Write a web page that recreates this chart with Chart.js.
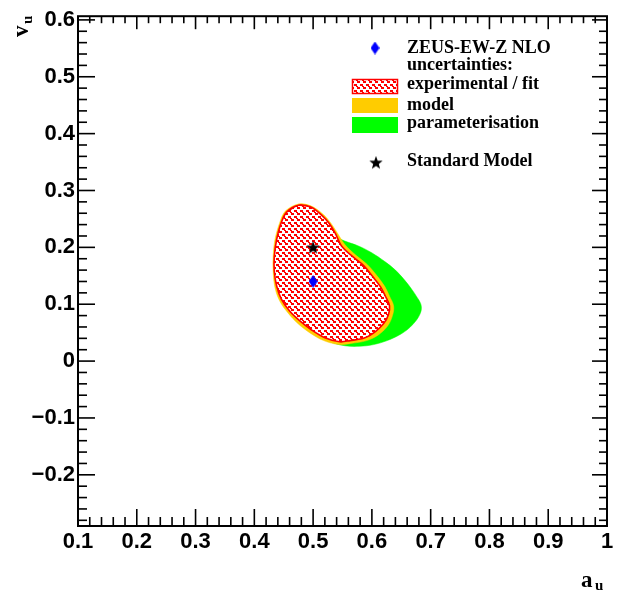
<!DOCTYPE html>
<html>
<head>
<meta charset="utf-8">
<title>ZEUS-EW-Z NLO: a_u vs v_u</title>
<script src="https://cdn.jsdelivr.net/npm/chart.js@4.4.1/dist/chart.umd.min.js"></script>
<style>
  html, body { margin: 0; padding: 0; background: #fff; }
  #wrap { width: 625px; height: 591px; }
</style>
</head>
<body>
<div id="wrap"><canvas id="contourChart" width="625" height="591"></canvas></div>
<script>
// Tick labels on both axes
const xTicks = [0.1, 0.2, 0.3, 0.4, 0.5, 0.6, 0.7, 0.8, 0.9, 1.0];
const yTicks = [-0.2, -0.1, 0, 0.1, 0.2, 0.3, 0.4, 0.5, 0.6];

// Fitted value and Standard Model expectation (a_u, v_u)
const zeusPoint = { x: 0.50, y: 0.14 };
const smPoint = { x: 0.50, y: 0.20 };

// 68% contour: experimental / fit uncertainty
const expA = [0.475, 0.496, 0.514, 0.528, 0.538, 0.548, 0.567, 0.586, 0.601, 0.615, 0.623, 0.630, 0.628, 0.620, 0.606, 0.588, 0.563, 0.545, 0.520, 0.497, 0.477, 0.460, 0.446, 0.438, 0.434, 0.434, 0.438, 0.445, 0.455];
const expV = [0.274, 0.271, 0.257, 0.241, 0.224, 0.203, 0.184, 0.168, 0.149, 0.130, 0.114, 0.097, 0.081, 0.066, 0.052, 0.041, 0.036, 0.034, 0.041, 0.055, 0.071, 0.088, 0.109, 0.132, 0.158, 0.184, 0.214, 0.241, 0.262];

// contour including model uncertainty
const modelA = [0.475, 0.496, 0.516, 0.530, 0.542, 0.554, 0.573, 0.592, 0.608, 0.622, 0.630, 0.637, 0.635, 0.627, 0.611, 0.591, 0.564, 0.545, 0.518, 0.494, 0.474, 0.457, 0.443, 0.435, 0.432, 0.432, 0.435, 0.443, 0.453];
const modelV = [0.276, 0.273, 0.259, 0.243, 0.224, 0.205, 0.186, 0.170, 0.151, 0.131, 0.114, 0.097, 0.080, 0.062, 0.046, 0.036, 0.031, 0.029, 0.036, 0.050, 0.066, 0.085, 0.106, 0.130, 0.158, 0.184, 0.213, 0.243, 0.264];

// contour including parameterisation uncertainty
const paramA = [0.477, 0.537, 0.554, 0.576, 0.599, 0.622, 0.640, 0.656, 0.668, 0.677, 0.683, 0.684, 0.679, 0.671, 0.660, 0.645, 0.626, 0.603, 0.579, 0.554, 0.528, 0.504, 0.482, 0.463, 0.450, 0.440, 0.434, 0.434, 0.443];
const paramV = [0.262, 0.220, 0.211, 0.203, 0.191, 0.175, 0.160, 0.142, 0.126, 0.112, 0.101, 0.090, 0.077, 0.066, 0.055, 0.045, 0.036, 0.029, 0.026, 0.027, 0.034, 0.046, 0.062, 0.080, 0.100, 0.123, 0.149, 0.179, 0.219];

const RED = '#ff0000';
const YELLOW = '#ffcc00';
const GREEN = '#00ff00';
const BLUE = '#0000ff';

const canvas = document.getElementById('contourChart');
const ctx = canvas.getContext('2d');

// closed smooth loop: wrap neighbours on both ends so the spline has no kink at the seam
function closedPath(xs, ys) {
    const pts = xs.map((v, i) => ({ x: v, y: ys[i] }));
    const n = pts.length;
    return [pts[n - 1], ...pts, pts[0], pts[1]];
}

// small red hatch on white, tiled over the fit contour
function makeHatch() {
    const c = document.createElement('canvas');
    c.width = 6;
    c.height = 6;
    const g = c.getContext('2d');
    g.fillStyle = '#fff';
    g.fillRect(0, 0, 6, 6);
    g.fillStyle = RED;
    g.fillRect(0, 0, 3, 2);
    g.fillRect(2, 2, 2, 1);
    g.fillRect(3, 3, 3, 2);
    return ctx.createPattern(c, 'repeat');
}

// tall blue diamond marker
function makeDiamond() {
    const c = document.createElement('canvas');
    c.width = 9;
    c.height = 13;
    const g = c.getContext('2d');
    g.fillStyle = BLUE;
    g.beginPath();
    g.moveTo(4.5, 0);
    g.lineTo(9, 6.5);
    g.lineTo(4.5, 13);
    g.lineTo(0, 6.5);
    g.closePath();
    g.fill();
    return c;
}

// filled five-pointed star
function makeStar() {
    const c = document.createElement('canvas');
    c.width = 14;
    c.height = 14;
    const g = c.getContext('2d');
    g.fillStyle = '#000';
    g.beginPath();
    for (let i = 0; i < 10; i++) {
        const r = i % 2 === 0 ? 7 : 2.9;
        const ang = -Math.PI / 2 + i * Math.PI / 5;
        const px = 7 + r * Math.cos(ang);
        const py = 7.5 + r * Math.sin(ang);
        if (i === 0) g.moveTo(px, py); else g.lineTo(px, py);
    }
    g.closePath();
    g.fill();
    return c;
}

const hatch = makeHatch();
const diamond = makeDiamond();
const star = makeStar();

function fmtTick(v) {
    const r = Math.round(v * 10) / 10;
    return (r < 0 ? '\u2212' : '') + String(Math.abs(r));
}

const tickFont = { family: "'Liberation Sans', Arial, sans-serif", size: 22, weight: 'bold' };

// frame with inward ticks on all four sides
const frameTicks = {
    id: 'frameTicks',
    afterDatasetsDraw(chart) {
        const { ctx: c, chartArea: a, scales: { x, y } } = chart;
        c.save();
        c.strokeStyle = '#000';
        c.lineWidth = 1.6;
        const seg = (x1, y1, x2, y2) => {
            c.beginPath();
            c.moveTo(x1, y1);
            c.lineTo(x2, y2);
            c.stroke();
        };
        for (let i = 0; i <= 45; i++) {
            const px = x.getPixelForValue(0.1 + i * 0.02);
            const major = i % 5 === 0;
            seg(px, a.bottom, px, a.bottom - (major ? 17 : 9));
            seg(px, a.top, px, a.top + (major ? 13 : 7));
        }
        for (let i = -14; i <= 30; i++) {
            const py = y.getPixelForValue(i * 0.02);
            const major = i % 5 === 0;
            seg(a.left, py, a.left + (major ? 17 : 9), py);
            seg(a.right, py, a.right - (major ? 15 : 8), py);
        }
        c.lineWidth = 2;
        c.strokeRect(a.left, a.top, a.right - a.left, a.bottom - a.top);
        c.restore();
    }
};

// axis titles with subscripts and the legend block
const annotations = {
    id: 'annotations',
    afterDraw(chart) {
        const c = chart.ctx;
        const big = "bold 23px 'Liberation Serif', 'Times New Roman', serif";
        const sub = "bold 15px 'Liberation Serif', 'Times New Roman', serif";
        c.save();
        c.fillStyle = '#000';
        c.textBaseline = 'alphabetic';
        c.textAlign = 'left';

        // a_u
        c.font = big;
        c.fillText('a', 581, 587);
        c.font = sub;
        c.fillText('u', 595, 590);

        // v_u, rotated
        c.save();
        c.translate(28, 37);
        c.rotate(-Math.PI / 2);
        c.font = big;
        c.fillText('v', 0, 0);
        c.font = sub;
        c.fillText('u', 13, 4);
        c.restore();

        // legend
        const lx = 407;
        c.font = "bold 18px 'Liberation Serif', 'Times New Roman', serif";
        c.drawImage(diamond, 375 - 4.5, 48 - 6.5);
        c.fillText('ZEUS-EW-Z NLO', lx, 53);
        c.fillText('uncertainties:', lx, 70);

        c.fillStyle = hatch;
        c.fillRect(352, 79, 46, 15);
        c.strokeStyle = RED;
        c.lineWidth = 1.5;
        c.strokeRect(352.5, 79.5, 45, 14);
        c.fillStyle = '#000';
        c.fillText('experimental / fit', lx, 89);

        c.fillStyle = YELLOW;
        c.fillRect(352, 98, 46, 15);
        c.fillStyle = '#000';
        c.fillText('model', lx, 110);

        c.fillStyle = GREEN;
        c.fillRect(352, 117, 46, 16);
        c.fillStyle = '#000';
        c.fillText('parameterisation', lx, 128);

        c.drawImage(star, 376 - 7, 163 - 7.5);
        c.fillText('Standard Model', lx, 166);
        c.restore();
    }
};

new Chart(ctx, {
    type: 'scatter',
    data: {
        datasets: [
            {
                label: 'Standard Model',
                data: [smPoint],
                pointStyle: star,
                pointRadius: 7,
                pointHoverRadius: 7,
                order: 0
            },
            {
                label: 'ZEUS-EW-Z NLO',
                data: [zeusPoint],
                pointStyle: diamond,
                pointRadius: 6,
                pointHoverRadius: 6,
                order: 1
            },
            {
                label: 'experimental / fit',
                data: closedPath(expA, expV),
                showLine: true,
                fill: 'shape',
                backgroundColor: hatch,
                borderColor: RED,
                borderWidth: 1.6,
                pointRadius: 0,
                tension: 0.35,
                order: 2
            },
            {
                label: 'model',
                data: closedPath(modelA, modelV),
                showLine: true,
                fill: 'shape',
                backgroundColor: YELLOW,
                borderColor: YELLOW,
                borderWidth: 0.5,
                pointRadius: 0,
                tension: 0.35,
                order: 3
            },
            {
                label: 'parameterisation',
                data: closedPath(paramA, paramV),
                showLine: true,
                fill: 'shape',
                backgroundColor: GREEN,
                borderColor: GREEN,
                borderWidth: 0.5,
                pointRadius: 0,
                tension: 0.35,
                order: 4
            }
        ]
    },
    options: {
        responsive: false,
        animation: false,
        devicePixelRatio: 1,
        layout: {
            padding: { left: 0, top: 15, right: 18, bottom: 0 }
        },
        plugins: {
            legend: { display: false },
            tooltip: { enabled: false }
        },
        scales: {
            x: {
                type: 'linear',
                min: 0.1,
                max: 1.0,
                afterBuildTicks: s => { s.ticks = xTicks.map(v => ({ value: v })); },
                afterFit: s => { s.height = 65; },
                grid: { display: false, drawTicks: false },
                border: { display: false },
                ticks: {
                    font: tickFont,
                    color: '#000',
                    padding: 3,
                    maxRotation: 0,
                    autoSkip: false,
                    callback: v => fmtTick(v)
                }
            },
            y: {
                type: 'linear',
                min: -0.29,
                max: 0.6065,
                afterBuildTicks: s => { s.ticks = yTicks.map(v => ({ value: v })); },
                afterFit: s => { s.width = 78; },
                grid: { display: false, drawTicks: false },
                border: { display: false },
                ticks: {
                    font: tickFont,
                    color: '#000',
                    padding: 3,
                    autoSkip: false,
                    callback: v => fmtTick(v)
                }
            }
        }
    },
    plugins: [frameTicks, annotations]
});
</script>
</body>
</html>
